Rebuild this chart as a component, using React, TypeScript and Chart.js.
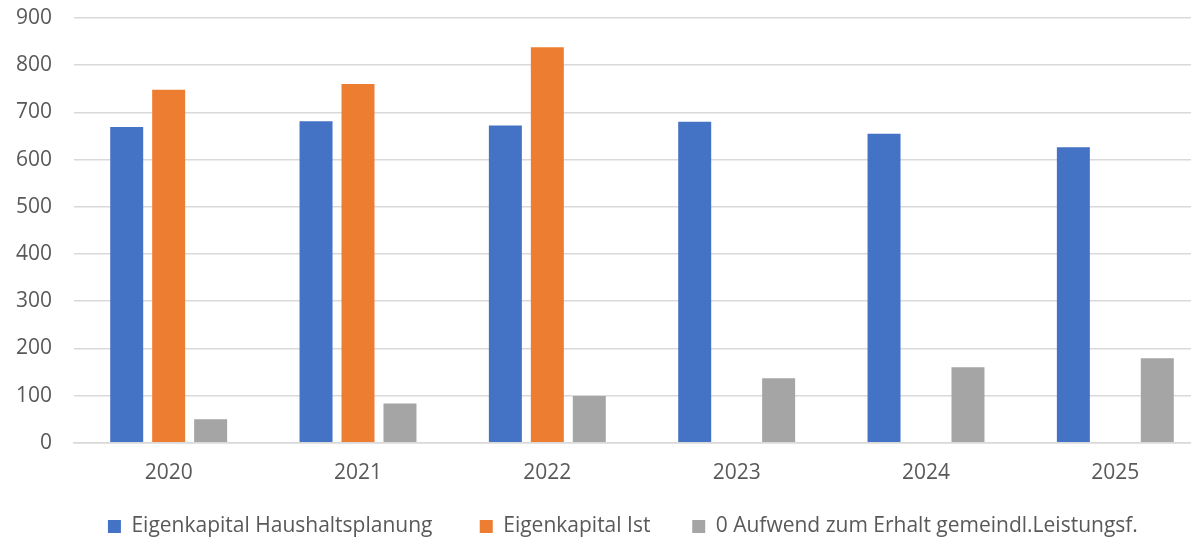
import React, { useEffect, useRef } from "react";
import { Chart, registerables } from "chart.js";

Chart.register(...registerables);

const categories = ["2020", "2021", "2022", "2023", "2024", "2025"];
const planValues = [669, 681, 672, 680, 655, 626];
const istValues: (number | null)[] = [748, 760, 838, null, null, null];
const aufwandValues = [50, 83, 99, 137, 160, 179];
const seriesLabels = [
  "Eigenkapital Haushaltsplanung",
  "Eigenkapital Ist",
  "0 Aufwend zum Erhalt gemeindl.Leistungsf.",
];
const yMin = 0;
const yMax = 900;
const yStep = 100;

const FONT = "'Open Sans', 'Noto Sans', sans-serif";
const TEXT = "#595959";
// extra trailing spacing per legend entry (Excel-like wide gaps)
const legendGap = ["     ", "    ", "       "];

export default function App() {
  const ref = useRef<HTMLCanvasElement | null>(null);
  useEffect(() => {
    if (!ref.current) return;
    const chart = new Chart(ref.current, {
      type: "bar",
      data: {
        labels: categories,
        datasets: [
          { label: seriesLabels[0], data: planValues, backgroundColor: "#4472C4" },
          { label: seriesLabels[1], data: istValues, backgroundColor: "#ED7D31" },
          { label: seriesLabels[2], data: aufwandValues, backgroundColor: "#A5A5A5" },
        ],
      },
      options: {
        responsive: false,
        animation: false,
        layout: { padding: { left: 0, right: 0, top: 18, bottom: 0 } },
        datasets: {
          bar: { categoryPercentage: 0.665, barPercentage: 0.786 },
        },
        plugins: {
          tooltip: { enabled: false },
          legend: {
            position: "bottom",
            fullSize: false,
            labels: {
              boxWidth: 13,
              boxHeight: 13,
              padding: 20,
              color: TEXT,
              font: { family: FONT, size: 21 },
              generateLabels: (c: any) => {
                const items = Chart.defaults.plugins.legend.labels.generateLabels(c);
                return items.map((it: any, i: number) => ({
                  ...it,
                  text: it.text + (legendGap[i] || ""),
                }));
              },
            },
          },
        },
        scales: {
          x: {
            grid: { display: false },
            border: { display: true, color: "#d9d9d9", width: 1.5 },
            ticks: { color: TEXT, font: { family: FONT, size: 21 }, padding: 10 },
          },
          y: {
            min: yMin,
            max: yMax,
            border: { display: false },
            grid: { color: "#d9d9d9", lineWidth: 1.5, drawTicks: false },
            ticks: {
              stepSize: yStep,
              color: TEXT,
              font: { family: FONT, size: 21 },
              padding: 22,
            },
            afterFit: (scale: any) => {
              scale.width = 74;
              scale.paddingTop = 0;
              scale.paddingBottom = 0;
            },
          },
        },
      },
    });
    return () => chart.destroy();
  }, []);
  return (
    <div
      style={{
        position: "fixed",
        left: 0,
        top: 0,
        width: 1191,
        height: 540,
        overflow: "hidden",
        background: "#fff",
      }}
    >
      <canvas ref={ref} width={1210} height={547} style={{ display: "block" }} />
    </div>
  );
}
